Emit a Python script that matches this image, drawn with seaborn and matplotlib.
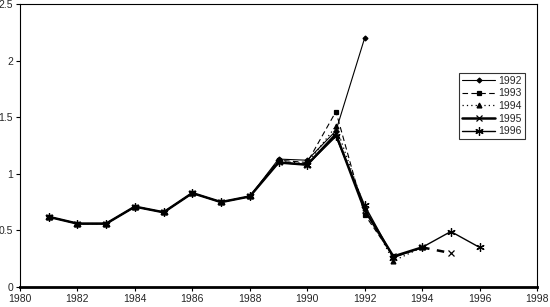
import matplotlib
matplotlib.use("Agg")
import matplotlib.pyplot as plt
import seaborn as sns
import pandas as pd

sns.set_style("white")
plt.rcParams['font.family'] = ['Liberation Sans', 'DejaVu Sans']

base_years = [1981, 1982, 1983, 1984, 1985, 1986, 1987, 1988]
base_vals = [0.62, 0.56, 0.56, 0.71, 0.66, 0.83, 0.75, 0.80]

tail_1992 = [1.13, 1.12, 1.38, 2.20]
tail_1993 = [1.12, 1.10, 1.55, 0.64, 0.27]
tail_1994 = [1.11, 1.09, 1.42, 0.70, 0.23, 0.35]
tail_1995 = [1.10, 1.08, 1.35, 0.68, 0.27, 0.35, 0.30]
tail_1996 = [1.10, 1.08, 1.33, 0.72, 0.26, 0.35, 0.49, 0.35]

series_names = ["1992", "1993", "1994", "1995", "1996"]
tails = [tail_1992, tail_1993, tail_1994, tail_1995, tail_1996]

x_ticks = list(range(1980, 1999, 2))
y_ticks = [0, 0.5, 1, 1.5, 2, 2.5]
y_tick_labels = ["0", "0.5", "1", "1.5", "2", "2.5"]

styles = {
    "1992": dict(lw=0.8, ls="-", marker="D", ms=2.5),
    "1993": dict(lw=0.8, ls=(0, (5, 3)), marker="s", ms=3.5),
    "1994": dict(lw=0.9, ls=(0, (1, 2.5)), marker="^", ms=3.5),
    "1995": dict(lw=1.8, ls="-", marker="x", ms=5),
    "1996": dict(lw=1.0, ls="-", marker=(6, 2, 0), ms=6),
}

fig = plt.figure(figsize=(5.5, 3.07), dpi=100)
ax = fig.add_axes([20/550, 20/307, 517/550, 283/307])

for name, tail in zip(series_names, tails):
    yrs = base_years + list(range(1989, 1989 + len(tail)))
    vals = base_vals + tail
    df = pd.DataFrame({"year": yrs, "value": vals})
    st = styles[name]
    if name == "1995":
        # last segment dashed
        sns.lineplot(data=df.iloc[:-1], x="year", y="value", ax=ax, color="black",
                     lw=st["lw"], linestyle="-", marker=st["marker"], markersize=st["ms"],
                     markeredgecolor="black", markeredgewidth=0.9, label=name)
        sns.lineplot(data=df.iloc[-2:], x="year", y="value", ax=ax, color="black",
                     lw=st["lw"], linestyle=(0, (3, 3)), marker=st["marker"], markersize=st["ms"],
                     markeredgecolor="black", markeredgewidth=0.9, markevery=[1])
    else:
        sns.lineplot(data=df, x="year", y="value", ax=ax, color="black",
                     lw=st["lw"], linestyle=st["ls"], marker=st["marker"], markersize=st["ms"],
                     markeredgecolor="black", markerfacecolor="black", markeredgewidth=0.9,
                     label=name)

ax.set_xlim(1980, 1998)
ax.set_ylim(0, 2.5)
ax.set_xticks(x_ticks)
ax.set_xticklabels([str(t) for t in x_ticks])
ax.set_yticks(y_ticks)
ax.set_yticklabels(y_tick_labels)
ax.set_xlabel("")
ax.set_ylabel("")
ax.tick_params(axis="both", direction="out", length=3, width=0.8, color="black",
               labelsize=7.5, pad=2, bottom=True, left=True)
for side in ["left", "top", "right"]:
    ax.spines[side].set_visible(True)
    ax.spines[side].set_color("black")
    ax.spines[side].set_linewidth(0.8)
ax.spines["bottom"].set_color("black")
ax.spines["bottom"].set_linewidth(2)

handles, labels = ax.get_legend_handles_labels()
leg = ax.legend(handles[:5], labels[:5], loc="upper left", bbox_to_anchor=(0.849, 0.757),
                frameon=True, fancybox=False, edgecolor="black", fontsize=7.5,
                handlelength=3.2, handletextpad=0.3, labelspacing=0.25,
                borderpad=0.3, borderaxespad=0)
leg.get_frame().set_linewidth(0.8)

fig.savefig("out.png", dpi=100)
